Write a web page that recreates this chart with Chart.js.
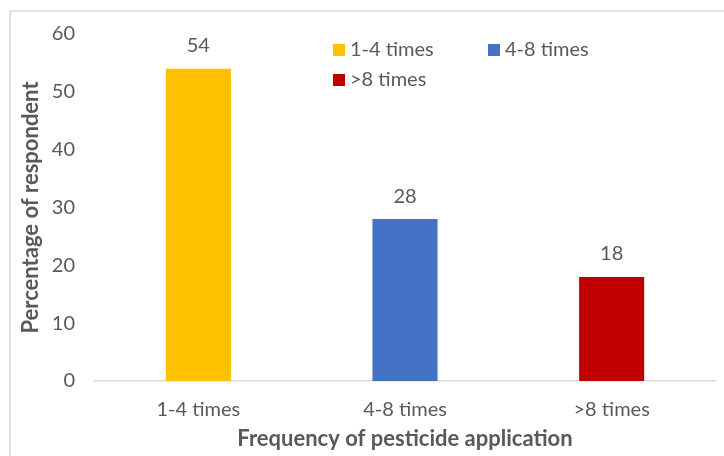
<!DOCTYPE html>
<html>
<head>
<meta charset="utf-8">
<script src="https://cdn.jsdelivr.net/npm/chart.js@4.4.1/dist/chart.umd.min.js"></script>
<style>
  html, body { margin: 0; padding: 0; background: #ffffff; }
  #wrap { width: 724px; height: 456px; position: relative; }
</style>
</head>
<body>
<div id="wrap"><canvas id="chart" width="724" height="456"></canvas></div>
<script>
// Survey: how often respondents apply pesticide
const categories = ['1-4 times', '4-8 times', '>8 times'];
const percentages = [54, 28, 18];
const barColors = ['#FFC000', '#4472C4', '#C00000'];
const yTicks = [0, 10, 20, 30, 40, 50, 60];

const textGray = '#595959';
const fontFamily = 'Lato, "Liberation Sans", sans-serif';

// Thin frame around the figure
const framePlugin = {
  id: 'frame',
  beforeDraw(chart) {
    const ctx = chart.ctx;
    ctx.save();
    ctx.strokeStyle = '#d9d9d9';
    ctx.lineWidth = 1.5;
    ctx.beginPath();
    ctx.moveTo(10, chart.height);
    ctx.lineTo(10, 11);
    ctx.lineTo(chart.width, 11);
    ctx.stroke();
    ctx.restore();
  }
};

// Value labels above each bar
const valueLabelPlugin = {
  id: 'valueLabels',
  afterDatasetsDraw(chart) {
    const ctx = chart.ctx;
    const meta = chart.getDatasetMeta(0);
    ctx.save();
    ctx.fillStyle = textGray;
    ctx.font = '20px ' + fontFamily;
    ctx.textAlign = 'center';
    ctx.textBaseline = 'middle';
    meta.data.forEach((bar, i) => {
      ctx.fillText(String(chart.data.datasets[0].data[i]), bar.x, bar.y - 23);
    });
    ctx.restore();
  }
};

// Legend placed inside the plot area, two columns
const innerLegendPlugin = {
  id: 'innerLegend',
  afterDraw(chart, args, opts) {
    const ctx = chart.ctx;
    const ds = chart.data.datasets[0];
    ctx.save();
    ctx.font = '20px ' + fontFamily;
    ctx.textBaseline = 'middle';
    ctx.textAlign = 'left';
    chart.data.labels.forEach((label, i) => {
      const col = i % 2, row = Math.floor(i / 2);
      const x = opts.x + col * opts.colWidth;
      const y = opts.y + row * opts.rowHeight;
      ctx.fillStyle = ds.backgroundColor[i];
      ctx.fillRect(x, y - 6, 12, 12);
      ctx.fillStyle = textGray;
      ctx.fillText(label, x + 17, y);
    });
    ctx.restore();
  }
};

new Chart(document.getElementById('chart'), {
  type: 'bar',
  data: {
    labels: categories,
    datasets: [{
      data: percentages,
      backgroundColor: barColors,
      borderWidth: 0,
      barPercentage: 0.315,
      categoryPercentage: 1.0
    }]
  },
  options: {
    responsive: false,
    animation: false,
    events: [],
    layout: { padding: { left: 16, right: 9, top: 34, bottom: 4 } },
    plugins: {
      legend: { display: false },
      tooltip: { enabled: false },
      innerLegend: { x: 333, y: 50, colWidth: 155, rowHeight: 30 }
    },
    scales: {
      x: {
        grid: { display: false, drawTicks: false },
        border: { display: true, color: '#d9d9d9', width: 1.5 },
        ticks: { color: textGray, font: { family: fontFamily, size: 20 }, padding: 17 },
        title: {
          display: true,
          text: 'Frequency of pesticide application',
          color: textGray,
          font: { family: fontFamily, size: 22, weight: 'bold' },
          padding: { top: 0, bottom: 0 }
        },
        afterFit(scale) { scale.height = 71; }
      },
      y: {
        min: 0,
        max: 60,
        afterBuildTicks(scale) { scale.ticks = yTicks.map(v => ({ value: v })); },
        grid: { display: false, drawTicks: false },
        border: { display: false },
        ticks: { color: textGray, font: { family: fontFamily, size: 20 }, padding: 20 },
        title: {
          display: true,
          text: 'Percentage of respondent',
          color: textGray,
          font: { family: fontFamily, size: 22, weight: 'bold' },
          padding: { top: 2, bottom: 0 }
        },
        afterFit(scale) { scale.width = 79; }
      }
    }
  },
  plugins: [framePlugin, valueLabelPlugin, innerLegendPlugin]
});
</script>
</body>
</html>
